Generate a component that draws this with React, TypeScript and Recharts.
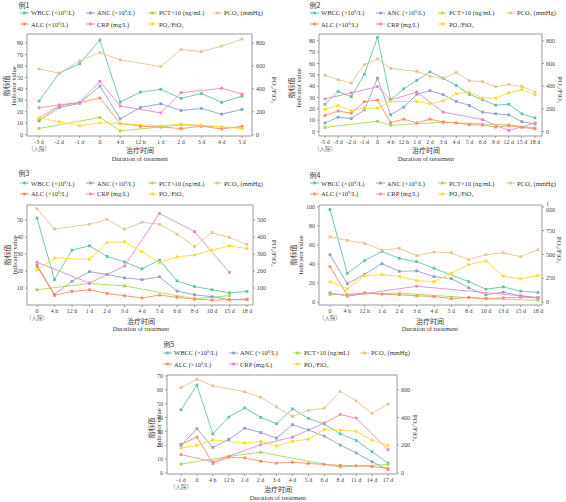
import { LineChart, Line, XAxis, YAxis, ReferenceLine } from 'recharts'

const SERIF = '"Liberation Serif", "DejaVu Serif", serif'
const CJK = '"Noto Sans CJK SC", "Noto Sans", sans-serif'

// ---- 例1 ----
const p1Cats = ['-3 d', '-2 d', '-1 d', '0', '4 h', '12 h', '1 d', '2 d', '3 d', '4 d', '5 d']
const p1Wbcc = [29.3, 53.7, 62, 82.7, 28.4, 37.2, 39.6, 31.7, 36, 28.2, 33.7]
const p1Anc = [12, 23.8, 27.3, 42.5, 13.8, 23.8, 27, 21.1, 22.9, 17.9, 22]
const p1Pct = [5.4, null, null, 15, 3.3, null, 6.8, 8.5, 7.8, 6.5, 6]
const p1Pco2 = [57.5, 53.7, 64.5, 71.8, 65.4, null, 59.5, 74.5, 72.7, 77.4, 83.6]
const p1Alc = [14, 25.5, 27.9, 32, 9.7, 7.3, 6.7, 5.3, 7.3, 5, 7.3]
const p1Crp = [23.5, 26, 28.2, 46.6, 25, null, 19, 36.7, null, 40.5, 35.5]
const p1Pf = [147, 112, 77, 103, 98, null, 77, 92, 83, 68, 54]

// ---- 例2 ----
const p2Cats = ['-5 d', '-3 d', '-2 d', '-1 d', '0', '4 h', '12 h', '1 d', '2 d', '3 d', '4 d', '5 d', '6 d', '9 d', '12 d', '15 d', '18 d']
const p2Wbcc = [24, 35.2, 30.7, 50.5, 83, 28, 37.6, 45, 52.6, 47, 40.6, 32.8, 28, 23.2, 24, 15.6, 12]
const p2Anc = [7.5, 12.6, 11.4, 19, 47, 14.7, 21.4, 32.8, 36, 32.5, 26.5, 22.9, 17.1, 15.6, 14.7, 8.7, 6.6]
const p2Pct = [3.6, null, null, null, 9, 5.4, null, null, null, 8.1, null, null, null, null, 5.7, null, 3]
const p2Pco2 = [49.6, 45.7, 42.7, 59, 64, 55.6, null, 53, 48.7, 46.6, 52, 44.8, 43.9, 39.4, 41.5, 39.7, 34.6]
const p2Alc = [14.1, 18, 16.2, 26.2, 27.7, 7.8, 10.8, 7.5, 10.8, 8.4, 7.5, 6, 5.7, 3.9, 5.1, 3.6, 2.4]
const p2Crp = [28.8, null, 34, null, 39.6, 27.8, null, 34.8, null, 17.1, null, null, 10.5, null, 0.8, null, 7.5]
const p2Pf = [195, 229, 183, 205, 205, 265, null, 265, 244, 270, 334, 346, 295, 295, 340, 370, 322]

// ---- 例3 ----
const p3Cats = ['0', '4 h', '12 h', '1 d', '2 d', '3 d', '4 d', '5 d', '6 d', '8 d', '10 d', '15 d', '18 d']
const p3Wbcc = [51.3, 15, 32.4, 34.9, 28.7, 25.4, 21.3, 26.5, 14.2, 10.9, 9, 7.2, 8]
const p3Anc = [23.6, 6.2, 14, 19.7, 18, 16, 15, 16.6, 8.2, 6, 4.9, 3.1, 3.1]
const p3Pct = [9, null, null, 12.7, null, 11.3, null, null, null, 3.6, null, 5.5, null]
const p3Pco2 = [56.8, 44.9, null, 47.6, 50.5, 44.7, 48.8, 47.6, 41.8, 34.5, 42.7, 39.8, 35.7]
const p3Alc = [22.8, 5.7, 8, 9, 6.8, 5.5, 4.1, 5.9, 4.5, 3.5, 2.9, 3.1, 3.5]
const p3Crp = [25.2, null, null, 12.9, null, 23, null, 54, null, 43.3, null, 19.2, null]
const p3Pf = [208, 277, null, 269, 368, 373, 314, 249, 284, 295, 324, 349, 333]

// ---- 例4 ----
const p4Cats = ['0', '4 h', '12 h', '1 d', '2 d', '3 d', '4 d', '5 d', '8 d', '10 d', '13 d', '15 d', '18 d']
const p4Wbcc = [97.2, 30.3, 43.6, 53.3, 46, 42.5, 35.5, null, 21.6, 13.6, 16, 11.5, 10.1]
const p4Anc = [49.8, 19.2, 29.3, 40.4, 32.4, 32.8, 26.8, 24.7, 15, 7.7, 10.5, 6.6, 4.5]
const p4Pct = [8, null, null, null, 9.4, null, null, null, null, 3.5, null, null, 2]
const p4Pco2 = [68.6, 64.8, 61.7, 54.7, 56.4, 48.8, 52.6, 51.9, 44.6, 49.8, 51.9, 47.7, 55]
const p4Alc = [37.3, 7.3, 9.8, 8.4, 7.7, 6.6, 5.9, 3.8, 4.9, 3.8, 4.5, 5.2, 4.5]
const p4Crp = [9.8, 6.3, null, null, null, 16.7, null, null, null, null, null, 6.6, 4.9]
const p4Pf = [213, 139, 279, 289, 272, 226, 216, 303, 394, 432, 272, 244, 279]

// ---- 例5 ----
const p5Cats = ['-1 d', '0', '4 h', '12 h', '1 d', '2 d', '3 d', '4 d', '5 d', '6 d', '8 d', '11 d', '14 d', '17 d']
const p5Wbcc = [45.6, 63.4, 28.2, 40.3, 47, 40.1, 35.6, 46.3, 39.4, 35.4, 28.2, 23.5, 15.4, 7.1]
const p5Anc = [20, 32, 18.5, 24.2, 32.3, 29.2, 25.2, 34.9, 31.1, 26.6, 20.2, 14.5, 8.1, 2.6]
const p5Pct = [6.4, null, null, 12, null, 15, null, null, null, null, 4.3, null, null, 6.2]
const p5Pco2 = [61.7, 67.6, 62.9, null, 58.6, 54.6, 47.7, 40.8, 45.1, 46.7, 58.9, 52, 43, 49.8]
const p5Alc = [20.6, 25.9, 6.9, 11.4, 10.9, 8.5, 7.1, 7.8, 6.9, 6.2, 5.5, 5.2, 4.7, 3.3]
const p5Crp = [13.3, null, 8.1, null, null, 20.4, null, 25.9, null, 36, 42.2, 39.6, null, 16.8]
const p5Pf = [180, 199, 240, null, 216, 228, 195, 228, 244, 313, 308, 301, 237, 199]

const SERIES = [
  { key: 'wbcc', name: 'WBCC (×10⁹/L)', color: '#66c2a5', axis: 'L', row: 0, col: 0 },
  { key: 'anc', name: 'ANC (×10⁹/L)', color: '#8da0cb', axis: 'L', row: 0, col: 1 },
  { key: 'pct', name: 'PCT×10 (ng/mL)', color: '#a6d854', axis: 'L', row: 0, col: 2 },
  { key: 'pco2', name: 'PCO₂ (mmHg)', color: '#e5c494', axis: 'L', row: 0, col: 3 },
  { key: 'alc', name: 'ALC (×10⁹/L)', color: '#fc8d62', axis: 'L', row: 1, col: 0 },
  { key: 'crp', name: 'CRP (mg/L)', color: '#e78ac3', axis: 'L', row: 1, col: 1 },
  { key: 'pf', name: 'PO₂/FiO₂', color: '#ffd92f', axis: 'R', row: 1, col: 2 },
]

type Vals = (number | null)[]

interface PanelDef {
  title: string
  cats: string[]
  values: Vals[]
  frame: [number, number, number, number]
  pad: [number, number]
  domain: [number, number]
  leftTicks: number[]
  rightTicks: number[]
  titlePos: [number, number]
  legendX: number[]
  legendY: [number, number]
  yLab: [number, number, number]
  rLab: [number, number]
  xTitle: [number, number, number]
}

const range = (a: number, b: number, s: number) => {
  const out: number[] = []
  for (let v = a; v <= b; v += s) out.push(v)
  return out
}

const panels: PanelDef[] = [
  {
    title: '例1', cats: p1Cats, values: [p1Wbcc, p1Anc, p1Pct, p1Pco2, p1Alc, p1Crp, p1Pf],
    frame: [27, 34, 252, 136], pad: [12, 10], domain: [-1.2, 88],
    leftTicks: range(0, 80, 10), rightTicks: [0, 200, 400, 600, 800],
    titlePos: [20, 5], legendX: [20, 86, 148, 213], legendY: [12.7, 24],
    yLab: [6, 13.5, 86], rLab: [273, 90], xTitle: [140, 150, 158.5],
  },
  {
    title: '例2', cats: p2Cats, values: [p2Wbcc, p2Anc, p2Pct, p2Pco2, p2Alc, p2Crp, p2Pf],
    frame: [319, 34, 542, 136], pad: [6, 7], domain: [-4, 86],
    leftTicks: range(0, 80, 10), rightTicks: [0, 200, 400, 600, 800],
    titlePos: [311, 5], legendX: [310, 376, 438, 506], legendY: [12.7, 24],
    yLab: [291, 298.5, 88], rLab: [559, 90], xTitle: [426, 150, 158.5],
  },
  {
    title: '例3', cats: p3Cats, values: [p3Wbcc, p3Anc, p3Pct, p3Pco2, p3Alc, p3Crp, p3Pf],
    frame: [27, 205, 253, 305], pad: [10, 6], domain: [0, 59],
    leftTicks: range(10, 50, 10), rightTicks: [100, 200, 300, 400, 500],
    titlePos: [20, 173], legendX: [20, 86, 148, 213], legendY: [183, 193.5],
    yLab: [7, 14.5, 255], rLab: [273, 253], xTitle: [141, 320.5, 328.5],
  },
  {
    title: '例4', cats: p4Cats, values: [p4Wbcc, p4Anc, p4Pct, p4Pco2, p4Alc, p4Crp, p4Pf],
    frame: [319, 205, 542, 305], pad: [11, 4], domain: [-3, 102],
    leftTicks: range(0, 100, 10), rightTicks: [0, 250, 500, 750, 1000],
    titlePos: [311, 175], legendX: [310, 376, 438, 506], legendY: [183, 193.5],
    yLab: [293, 300.5, 255], rLab: [558, 250], xTitle: [430, 320.5, 328.5],
  },
  {
    title: '例5', cats: p5Cats, values: [p5Wbcc, p5Anc, p5Pct, p5Pco2, p5Alc, p5Crp, p5Pf],
    frame: [167, 375, 397, 474], pad: [14, 9], domain: [-0.7, 70.7],
    leftTicks: range(0, 70, 10), rightTicks: [0, 200, 400, 600],
    titlePos: [165, 344], legendX: [163, 229, 293, 360], legendY: [352.7, 364],
    yLab: [151, 158.5, 428], rLab: [414, 428], xTitle: [278, 489, 498],
  },
]

const AXIS = '#9a9a9a'
const TOP = 6

function Abs({ x, y, rot = 0, size, font = SERIF, children }: any) {
  return (
    <div
      style={{
        position: 'absolute', left: x, top: y, fontSize: size, fontFamily: font, lineHeight: 1,
        whiteSpace: 'nowrap', color: '#333',
        transform: `translate(-50%, -50%) rotate(${rot}deg)`,
      }}
    >
      {children}
    </div>
  )
}

function Dot(props: any) {
  const { cx, cy, stroke } = props
  if (cx == null || cy == null || props.value == null) return null
  return <rect x={cx - 1.4} y={cy - 1.4} width={2.8} height={2.8} fill={stroke} />
}

function XTick(props: any) {
  const { x, y, payload, index } = props
  return (
    <g>
      <text x={x} y={y + 5} textAnchor="middle" fontSize={6} fill="#444" fontFamily={SERIF}>
        {payload.value}
      </text>
      {index === 0 && (
        <text x={x} y={y + 12} textAnchor="middle" fontSize={5.5} fill="#666" fontFamily={CJK}>
          （入院）
        </text>
      )}
    </g>
  )
}

function Panel({ p }: { p: PanelDef }) {
  const [fl, ft, fr, fb] = p.frame
  const rows = p.cats.map((c, i) => {
    const r: any = { cat: c }
    SERIES.forEach((s, k) => (r[s.key] = p.values[k][i]))
    return r
  })
  const tickStyle = { fontSize: 6, fill: '#444', fontFamily: SERIF }
  return (
    <>
      <Abs x={p.titlePos[0] + 4} y={p.titlePos[1]} size={7} font={CJK}>{p.title}</Abs>
      {SERIES.map((s) => (
        <div
          key={s.key}
          style={{
            position: 'absolute', left: p.legendX[s.col], top: p.legendY[s.row] - 4,
            height: 8, display: 'flex', alignItems: 'center', gap: 2,
            fontSize: 6.5, fontFamily: SERIF, color: '#333', whiteSpace: 'nowrap',
          }}
        >
          <svg width={9} height={6}>
            <line x1={0} y1={3} x2={9} y2={3} stroke={s.color} strokeWidth={1} />
            <rect x={3.1} y={1.6} width={2.8} height={2.8} fill={s.color} />
          </svg>
          <span>{s.name}</span>
        </div>
      ))}
      <Abs x={p.yLab[0]} y={p.yLab[2]} rot={-90} size={7} font={CJK}>指标值</Abs>
      <Abs x={p.yLab[1]} y={p.yLab[2]} rot={-90} size={6.5}>Indicator value</Abs>
      <Abs x={p.rLab[0]} y={p.rLab[1]} rot={90} size={7}>PO₂/FiO₂</Abs>
      <Abs x={p.xTitle[0]} y={p.xTitle[1]} size={7} font={CJK}>治疗时间</Abs>
      <Abs x={p.xTitle[0]} y={p.xTitle[2]} size={6.5}>Duration of treatment</Abs>
      <div style={{ position: 'absolute', left: fl - 30, top: ft - TOP }}>
        <LineChart
          width={fr - fl + 60}
          height={fb - ft + 26 + TOP}
          data={rows}
          margin={{ top: TOP, right: 0, bottom: 0, left: 0 }}
        >
          <XAxis
            dataKey="cat"
            interval={0}
            height={26}
            padding={{ left: p.pad[0], right: p.pad[1] }}
            tickSize={2}
            tickMargin={1}
            stroke={AXIS}
            tick={(tp: any) => <XTick {...tp} />}
          />
          <YAxis
            yAxisId="L"
            width={30}
            domain={p.domain}
            ticks={p.leftTicks}
            allowDataOverflow
            tickSize={2}
            tickMargin={2}
            stroke={AXIS}
            tick={tickStyle}
          />
          <YAxis
            yAxisId="R"
            orientation="right"
            width={30}
            domain={[p.domain[0] * 10, p.domain[1] * 10]}
            ticks={p.rightTicks}
            allowDataOverflow
            tickSize={2}
            tickMargin={2}
            stroke={AXIS}
            tick={tickStyle}
            tickFormatter={(v: number) => (v === 1000 ? '1 000' : String(v))}
          />
          <ReferenceLine yAxisId="L" y={p.domain[1]} stroke={AXIS} />
          {SERIES.map((s) => (
            <Line
              key={s.key}
              yAxisId={s.axis}
              dataKey={s.key}
              stroke={s.color}
              strokeWidth={0.9}
              dot={(dp: any) => <Dot key={`${s.key}-${dp.index}`} {...dp} />}
              activeDot={false}
              connectNulls
              isAnimationActive={false}
            />
          ))}
        </LineChart>
      </div>
    </>
  )
}

export default function App() {
  return (
    <div
      style={{
        position: 'absolute', left: 0, top: 0, width: 566, height: 502,
        background: '#fff', overflow: 'hidden',
      }}
    >
      {panels.map((p) => (
        <Panel key={p.title} p={p} />
      ))}
    </div>
  )
}
